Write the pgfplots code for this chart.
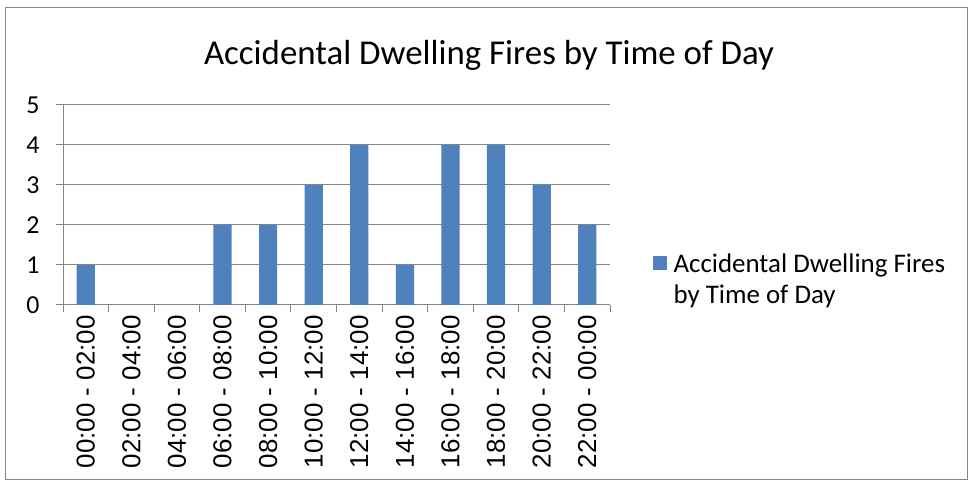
\documentclass[border=0pt]{standalone}
\usepackage{pgfplots}
\pgfplotsset{compat=1.18}
\usepackage{fontspec}
\setmainfont{Carlito}
\newfontfamily\arialfont{Liberation Sans}
\definecolor{barblue}{RGB}{79,129,189}
\definecolor{gridgray}{RGB}{134,134,134}
\begin{document}
\begin{tikzpicture}[x=1bp,y=1bp]
\useasboundingbox (0,0) rectangle (970,482);
\fill[white] (0,0) rectangle (970,482);
\draw[gridgray, line width=1bp] (5,2) rectangle (967,474);
\node[font=\fontsize{35}{40}\selectfont] at (489,427) {Accidental Dwelling Fires by Time of Day};
\begin{axis}[
  at={(63bp,177bp)}, anchor=south west,
  scale only axis, width=547bp, height=200bp,
  xmin=-0.5, xmax=11.5, ymin=0, ymax=5,
  ybar, bar width=0.4,
  xtick={0,...,11},
  xticklabels={00:00 - 02:00, 02:00 - 04:00, 04:00 - 06:00, 06:00 - 08:00, 08:00 - 10:00, 10:00 - 12:00, 12:00 - 14:00, 14:00 - 16:00, 16:00 - 18:00, 18:00 - 20:00, 20:00 - 22:00, 22:00 - 00:00},
  minor xtick={-0.5,0.5,...,11.5},
  ytick={0,...,5},
  axis x line*=bottom, axis y line*=left,
  axis line style={gridgray, line width=1bp, -},
  ymajorgrids, grid style={gridgray, line width=1bp},
  tick align=outside,
  tick style={gridgray, line width=1bp},
  major tick length=7bp, minor tick length=7bp,
  major x tick style={draw=none},
  /pgf/number format/assume math mode=true,
  yticklabel style={font=\fontsize{26}{26}\selectfont, xshift=-13bp},
  xticklabel style={rotate=90, anchor=east, font=\arialfont\fontsize{26}{26}\selectfont},
  legend style={at={(1.072,0.13)}, anchor=west, draw=none, fill=none, font=\fontsize{27}{32}\selectfont, row sep=7bp},
  legend cell align=left,
  legend image code/.code={\fill[barblue] (0bp,-7bp) rectangle (14bp,7bp); \path (0bp,0bp) -- (19bp,0bp);},
]
\addplot[fill=barblue, draw=none] coordinates {(0,1) (1,0) (2,0) (3,2) (4,2) (5,3) (6,4) (7,1) (8,4) (9,4) (10,3) (11,2)};
\addlegendentry{Accidental Dwelling Fires}
\addlegendimage{empty legend}
\addlegendentry{by Time of Day}
\end{axis}
\end{tikzpicture}
\end{document}
